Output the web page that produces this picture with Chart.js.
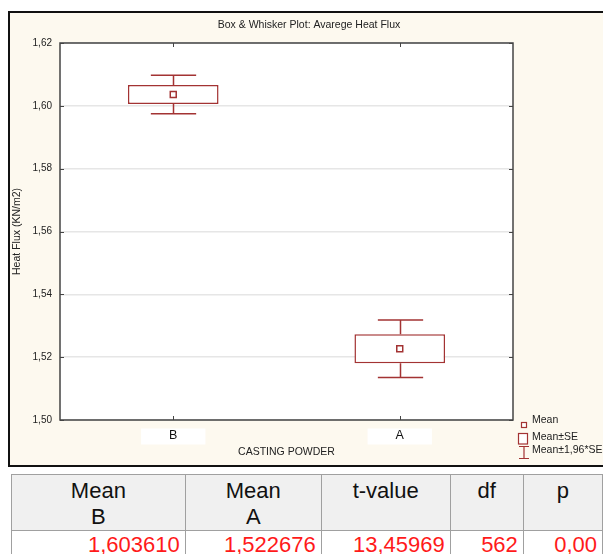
<!DOCTYPE html>
<html>
<head>
<meta charset="utf-8">
<script src="https://cdn.jsdelivr.net/npm/chart.js@4.4.1/dist/chart.umd.min.js"></script>
<style>
  html, body { margin: 0; padding: 0; width: 603px; height: 554px; overflow: hidden; background: #fff; }
  body { font-family: Arial, 'Liberation Sans', sans-serif; }
  #frame { position: absolute; left: 8px; top: 11px; width: 640px; height: 452px; border: 2px solid #111; background: #fdf9ef; }
  #wrap { position: absolute; left: 0; top: 0; width: 598px; height: 452px; }
  #tbl { position: absolute; left: 11px; top: 474px; border-collapse: collapse; table-layout: fixed; font-size: 22px; }
  #tbl th { background: #f0f0f0; font-weight: normal; vertical-align: top; line-height: 26px; height: 52px; padding: 3px 0 0 0; border: 1px solid #a0a0a0; color: #111; }
  #tbl td { background: #fff; color: #ff1a1a; text-align: right; line-height: 26px; padding: 1px 5px 0 0; border: 1px solid #a0a0a0; }
</style>
</head>
<body>
<div id="frame"><div id="wrap"><canvas id="chart"></canvas></div></div>
<table id="tbl"><colgroup></colgroup><thead><tr></tr></thead><tbody><tr></tr></tbody></table>
<script>
  // ---- data ----
  const categories = ['B', 'A'];
  const meanValues = [1.603610, 1.522676];
  const seLow = [1.6006, 1.5181];      // Mean-SE
  const seHigh = [1.6066, 1.5273];     // Mean+SE
  const ciLow = [1.5975, 1.5135];      // Mean-1,96*SE
  const ciHigh = [1.6097, 1.5318];     // Mean+1,96*SE
  const yMin = 1.50, yMax = 1.62, yStep = 0.02;
  const legendLabels = ['Mean', 'Mean±SE', 'Mean±1,96*SE'];
  const tableHead = [['Mean', 'B'], ['Mean', 'A'], ['t-value'], ['df'], ['p']];
  const tableRow = ['1,603610', '1,522676', '13,45969', '562', '0,00'];

  const FONT = "Arial, 'Liberation Sans', sans-serif";
  const RED = '#a33333';
  const INK = '#222';

  // ---- t-test table ----
  const colW = [176, 137, 130, 74, 80];
  const tbl = document.getElementById('tbl');
  colW.forEach(w => { const c = document.createElement('col'); c.style.width = w + 'px'; tbl.querySelector('colgroup').appendChild(c); });
  tableHead.forEach(h => { const th = document.createElement('th'); th.innerHTML = h.join('<br>'); tbl.querySelector('thead tr').appendChild(th); });
  tableRow.forEach(v => { const td = document.createElement('td'); td.textContent = v; tbl.querySelector('tbody tr').appendChild(td); });

  // whiskers, plot frame, inward ticks and the legend
  const boxPlot = {
    id: 'boxPlot',
    beforeDraw(chart) {
      const { ctx, chartArea: a } = chart;
      ctx.save();
      ctx.fillStyle = '#fff';
      ctx.fillRect(a.left, a.top, a.right - a.left, a.bottom - a.top);
      ctx.restore();
    },
    beforeDatasetsDraw(chart) {
      const { ctx, scales: { x, y } } = chart;
      const bars = chart.getDatasetMeta(0).data;
      ctx.save();
      ctx.strokeStyle = RED;
      ctx.lineWidth = 1.5;
      categories.forEach((c, i) => {
        const px = Math.round(x.getPixelForValue(i)) + 0.5;
        const half = (bars[i] ? bars[i].width : 90) / 4;
        ctx.beginPath();
        ctx.moveTo(px, y.getPixelForValue(seHigh[i])); ctx.lineTo(px, y.getPixelForValue(ciHigh[i]));
        ctx.moveTo(px, y.getPixelForValue(seLow[i])); ctx.lineTo(px, y.getPixelForValue(ciLow[i]));
        ctx.moveTo(px - half, y.getPixelForValue(ciHigh[i])); ctx.lineTo(px + half, y.getPixelForValue(ciHigh[i]));
        ctx.moveTo(px - half, y.getPixelForValue(ciLow[i])); ctx.lineTo(px + half, y.getPixelForValue(ciLow[i]));
        ctx.stroke();
      });
      ctx.restore();
    },
    afterDatasetsDraw(chart) {
      const { ctx, chartArea: a, scales: { x, y } } = chart;
      ctx.save();
      ctx.strokeStyle = '#444';
      ctx.lineWidth = 1.5;
      ctx.strokeRect(a.left, a.top, a.right - a.left, a.bottom - a.top);
      ctx.lineWidth = 1;
      ctx.beginPath();
      x.ticks.forEach((t, i) => {
        const px = Math.round(x.getPixelForTick(i)) + 0.5;
        ctx.moveTo(px, a.top); ctx.lineTo(px, a.top + 4);
        ctx.moveTo(px, a.bottom); ctx.lineTo(px, a.bottom - 4);
      });
      y.ticks.forEach((t, i) => {
        const py = Math.round(y.getPixelForTick(i)) + 0.5;
        ctx.moveTo(a.left, py); ctx.lineTo(a.left + 4, py);
        ctx.moveTo(a.right, py); ctx.lineTo(a.right - 4, py);
      });
      ctx.stroke();
      ctx.restore();
    },
    afterDraw(chart) {
      const { ctx, chartArea: a } = chart;
      const r = a.right, b = a.bottom;
      ctx.save();
      ctx.strokeStyle = RED;
      ctx.fillStyle = '#fff';
      ctx.lineWidth = 1.2;
      // Mean
      ctx.fillRect(r + 8.5, b + 2.5, 5, 5); ctx.strokeRect(r + 8.5, b + 2.5, 5, 5);
      // Mean±SE
      ctx.fillRect(r + 5.5, b + 13.5, 9, 10.5); ctx.strokeRect(r + 5.5, b + 13.5, 9, 10.5);
      // Mean±1,96*SE
      ctx.beginPath();
      ctx.moveTo(r + 6, b + 26.5); ctx.lineTo(r + 16, b + 26.5);
      ctx.moveTo(r + 11, b + 26.5); ctx.lineTo(r + 11, b + 38.5);
      ctx.moveTo(r + 6, b + 38.5); ctx.lineTo(r + 16, b + 38.5);
      ctx.stroke();
      ctx.fillStyle = INK;
      ctx.font = '10.5px ' + FONT;
      ctx.textBaseline = 'middle';
      ctx.textAlign = 'left';
      [0, 17, 30].forEach((dy, i) => ctx.fillText(legendLabels[i], r + 19, b + dy));
      ctx.restore();
    }
  };

  new Chart(document.getElementById('chart').getContext('2d'), {
    data: {
      labels: categories,
      datasets: [
        {
          type: 'bar', label: legendLabels[1],
          data: categories.map((c, i) => [seLow[i], seHigh[i]]),
          backgroundColor: '#fff', borderColor: RED, borderWidth: 1.5, borderSkipped: false,
          barPercentage: 0.4, categoryPercentage: 1, order: 2
        },
        {
          type: 'line', label: legendLabels[0], data: meanValues, showLine: false,
          pointStyle: 'rect', pointRadius: 4.2, pointHoverRadius: 4.2,
          pointBackgroundColor: '#fff', pointBorderColor: RED, pointBorderWidth: 1.5, order: 0
        }
      ]
    },
    options: {
      responsive: true,
      maintainAspectRatio: false,
      animation: false,
      events: [],
      layout: { padding: 0 },
      plugins: {
        legend: { display: false },
        tooltip: { enabled: false },
        title: {
          display: true, text: 'Box & Whisker Plot: Avarege Heat Flux', color: INK,
          font: { family: FONT, size: 10.5, weight: 'normal' }, padding: { top: 5.7, bottom: 11.7 }
        }
      },
      scales: {
        x: {
          type: 'category', offset: true,
          afterFit: (s) => { s.height = 45; },
          grid: { display: false, drawTicks: false },
          border: { display: false },
          ticks: {
            padding: 8.5, color: '#111', font: { family: FONT, size: 12.5 },
            showLabelBackdrop: true, backdropColor: '#fff',
            backdropPadding: { top: 0, bottom: 1, left: 28, right: 28 }
          },
          title: { display: true, text: 'CASTING POWDER', color: INK, font: { family: FONT, size: 10.5 }, padding: { top: 0, bottom: 7 } }
        },
        y: {
          min: yMin, max: yMax,
          afterFit: (s) => { s.width = 50; },
          grid: { color: '#e6e6e6', lineWidth: 1.5, drawTicks: false },
          border: { display: false },
          ticks: {
            stepSize: yStep, padding: 8, color: INK, font: { family: FONT, size: 10 },
            callback: (v) => Number(v).toFixed(2).replace('.', ',')
          },
          title: { display: true, text: 'Heat Flux (KN/m2)', color: INK, font: { family: FONT, size: 10.5 }, padding: { top: 1, bottom: 0 } }
        },
        // empty right band that holds the legend column
        side: {
          type: 'linear', position: 'right', min: yMin, max: yMax,
          afterFit: (s) => { s.width = 95; },
          grid: { display: false, drawTicks: false },
          border: { display: false },
          ticks: { display: false }
        }
      }
    },
    plugins: [boxPlot]
  });
</script>
</body>
</html>
